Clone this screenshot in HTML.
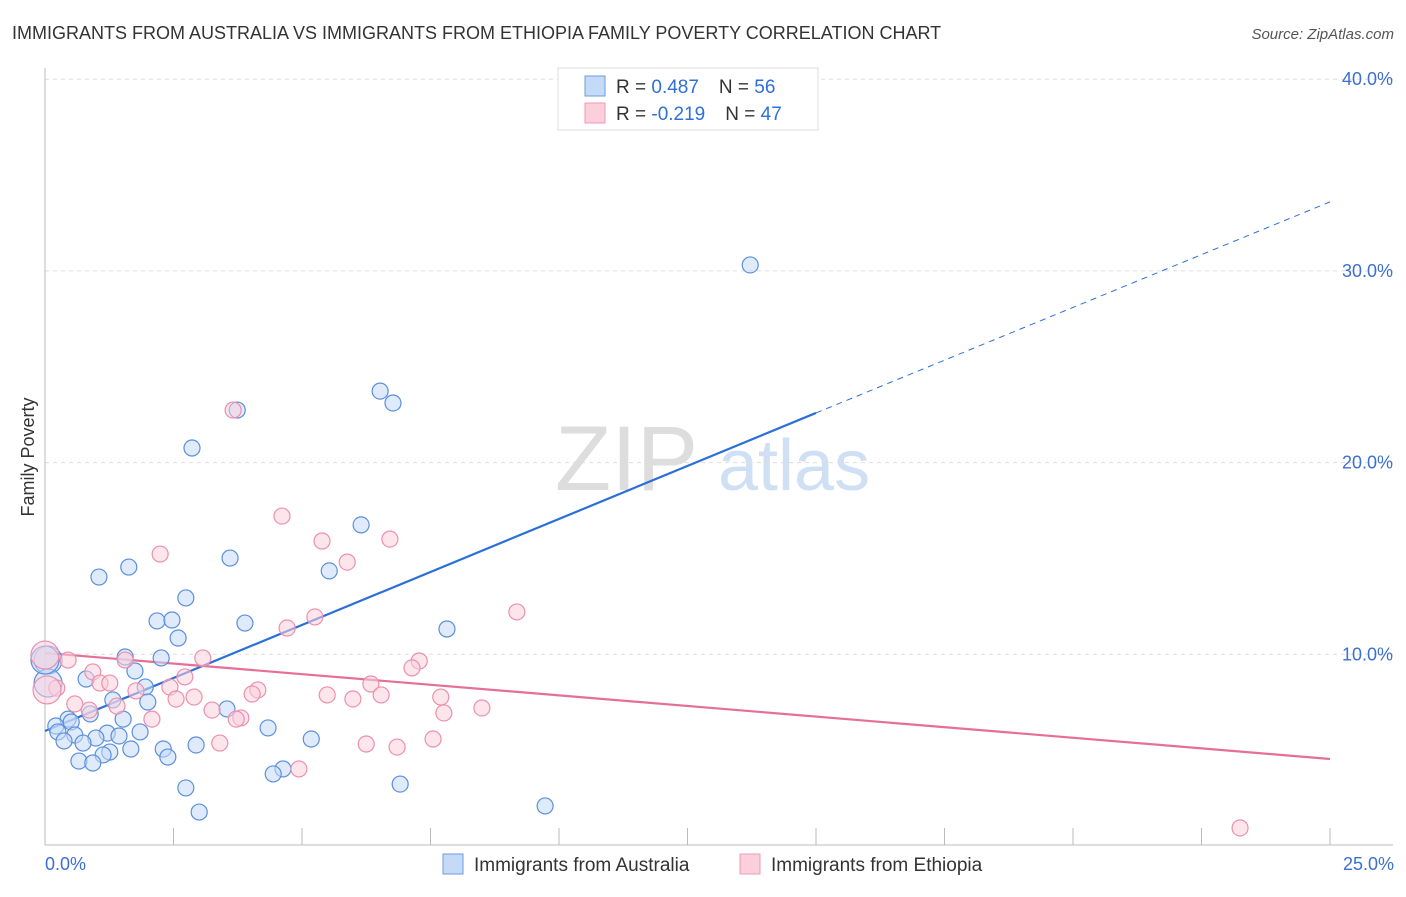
<!DOCTYPE html>
<html><head><meta charset="utf-8"><style>
body{margin:0;background:#fff;font-family:"Liberation Sans",sans-serif;}
svg text{font-family:"Liberation Sans",sans-serif;}
</style></head><body>
<svg id="chart" width="1406" height="892" viewBox="0 0 1406 892">
<text x="12" y="39" font-size="18" fill="#333">IMMIGRANTS FROM AUSTRALIA VS IMMIGRANTS FROM ETHIOPIA FAMILY POVERTY CORRELATION CHART</text>
<text x="1394" y="39" font-size="15" fill="#555" font-style="italic" text-anchor="end">Source: ZipAtlas.com</text>
<g>
<text x="555" y="490" font-size="92" fill="#ddd" font-family="Liberation Serif">ZIP</text>
<text x="718" y="490" font-size="72" fill="#cfe0f5">atlas</text>
</g>
<g id="grid"></g>
<g id="axes"></g>
<g id="trends"></g>
<g id="points"></g>
<text transform="translate(34,457) rotate(-90)" font-size="18" fill="#333" text-anchor="middle">Family Poverty</text>
<text x="45" y="870" font-size="18" fill="#3b6fd4">0.0%</text>
<text x="1394" y="870" font-size="18" fill="#3b6fd4" text-anchor="end">25.0%</text>
<g>
<rect x="558" y="68" width="260" height="62" fill="#fff" stroke="#ddd"/>
<rect x="585" y="76" width="20" height="20" fill="#c5daf7" stroke="#6c9be0"/>
<rect x="585" y="103" width="20" height="20" fill="#fbd0dc" stroke="#ef9ab4"/>
<text x="616" y="93" font-size="19" fill="#333">R = <tspan fill="#2f6fdb"> 0.487</tspan><tspan dx="20">N = </tspan><tspan fill="#2f6fdb">56</tspan></text>
<text x="616" y="120" font-size="19" fill="#333">R = <tspan fill="#2f6fdb">-0.219</tspan><tspan dx="20">N = </tspan><tspan fill="#2f6fdb">47</tspan></text>
</g>
<g>
<rect x="443" y="854" width="20" height="20" fill="#c5daf7" stroke="#6c9be0"/>
<text x="474" y="871" font-size="19" fill="#333">Immigrants from Australia</text>
<rect x="740" y="854" width="20" height="20" fill="#fbd0dc" stroke="#ef9ab4"/>
<text x="771" y="871" font-size="19" fill="#333">Immigrants from Ethiopia</text>
</g>
</svg>
<script>
const yTicks=[10,20,30,40];
const yTickLabels=["10.0%","20.0%","30.0%","40.0%"];
const xTicks=[2.5,5,7.5,10,12.5,15,17.5,20,22.5,25];
const ausX=[13.72,6.52,6.77,3.74,2.86,6.15,3.60,1.63,5.53,1.05,2.74,2.18,2.47,3.89,2.59,7.82,1.56,2.26,0.06,1.75,0.80,1.95,0.06,2.00,1.32,0.88,0.45,1.52,0.21,0.51,3.54,4.34,1.85,0.25,0.58,1.21,0.99,1.44,0.37,0.74,5.18,2.94,1.67,2.30,1.26,1.13,2.39,0.66,0.93,4.63,4.44,2.74,6.91,9.73,3.00,0.0];
const ausY=[30.31,23.73,23.11,22.74,20.76,16.75,15.02,14.55,14.35,14.03,12.94,11.74,11.79,11.63,10.85,11.32,9.86,9.81,9.70,9.13,8.71,8.29,8.50,7.51,7.62,6.89,6.62,6.62,6.26,6.47,7.15,6.16,5.95,5.95,5.79,5.89,5.63,5.74,5.48,5.37,5.58,5.27,5.06,5.06,4.90,4.75,4.64,4.43,4.33,4.02,3.76,3.03,3.23,2.09,1.77,9.70];
const ethX=[3.66,4.61,5.39,6.71,2.24,5.88,9.18,5.25,4.71,0.0,0.45,1.56,3.07,7.28,7.14,0.93,2.72,1.07,1.26,6.34,0.23,2.43,4.14,1.77,4.03,2.90,2.55,5.49,5.99,6.54,7.70,0.58,1.40,3.25,8.50,7.76,2.08,3.81,3.72,7.55,3.40,6.25,6.85,4.94,23.25,0.04,0.86];
const ethY=[22.74,17.21,15.91,16.01,15.23,14.81,12.21,11.95,11.37,9.96,9.70,9.70,9.81,9.65,9.29,9.08,8.82,8.50,8.50,8.45,8.24,8.29,8.14,8.09,7.93,7.77,7.67,7.88,7.67,7.88,7.77,7.41,7.30,7.09,7.20,6.94,6.62,6.68,6.62,5.58,5.37,5.32,5.16,4.02,0.94,8.14,7.09];
const ausTrendX=[0,15,25];
const ausTrendY=[6.0,22.59,33.6];
const ethTrendX=[0,25];
const ethTrendY=[10.07,4.54];

const NS="http://www.w3.org/2000/svg";
const X0=45,X1=1330,Y0=846,YPX=19.17;
const sx=v=>X0+(X1-X0)*v/25;
const sy=v=>Y0-v*YPX;
function mk(tag,attrs,parent){const e=document.createElementNS(NS,tag);for(const k in attrs)e.setAttribute(k,attrs[k]);document.getElementById(parent).appendChild(e);return e;}

yTicks.forEach((t,i)=>{
 const l=mk('line',{x1:45,x2:1393,y1:sy(t),y2:sy(t),stroke:'#ddd','stroke-dasharray':'4,4'},'grid');
 
 
 const tx=mk('text',{x:1393,y:sy(t)+6,'font-size':18,fill:'#3b6fd4','text-anchor':'end'},'axes');
 tx.textContent=yTickLabels[i];
 
 
});
let a=mk('line',{x1:45,x2:45,y1:68,y2:845,stroke:'#bbb'},'axes');


a=mk('line',{x1:45,x2:1393,y1:845,y2:845,stroke:'#bbb'},'axes');


xTicks.forEach(t=>{
 const l=mk('line',{x1:sx(t),x2:sx(t),y1:828,y2:845,stroke:'#bbb'},'axes');
 
 
});

function pts(xs,ys,fill,stroke,name){
 xs.forEach((x,i)=>{
  const c=mk('circle',{cx:sx(x),cy:sy(ys[i]),r:x<0.1?14:8,fill:fill,'fill-opacity':0.55,stroke:stroke,'stroke-width':1.2},'points');
  
  
 });
}
pts(ausX,ausY,'#c5daf7','#5b8fdc','point-australia');
pts(ethX,ethY,'#fbd0dc','#ec8fae','point-ethiopia');

let t=mk('line',{x1:sx(ausTrendX[0]),y1:sy(ausTrendY[0]),x2:sx(ausTrendX[1]),y2:sy(ausTrendY[1]),stroke:'#2b6fd8','stroke-width':2.2},'trends');


t=mk('line',{x1:sx(ausTrendX[1]),y1:sy(ausTrendY[1]),x2:sx(ausTrendX[2]),y2:sy(ausTrendY[2]),stroke:'#2b6fd8','stroke-width':1,'stroke-dasharray':'6,5'},'trends');


t=mk('line',{x1:sx(ethTrendX[0]),y1:sy(ethTrendY[0]),x2:sx(ethTrendX[1]),y2:sy(ethTrendY[1]),stroke:'#e66f98','stroke-width':2.2},'trends');


</script>
</body></html>
